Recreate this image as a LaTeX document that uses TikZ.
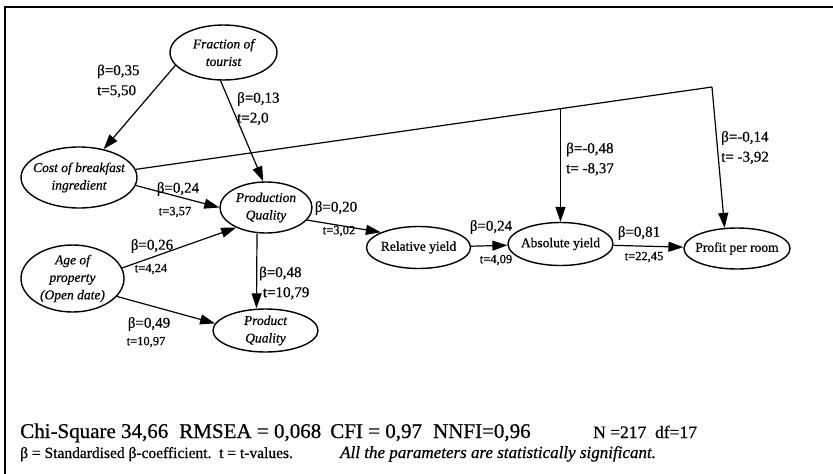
\documentclass[tikz,border=0pt]{standalone}
\usepackage{fontspec}
\setmainfont{Liberation Serif}[FakeBold=0.6]
\usepackage{tikz}
\usetikzlibrary{shapes.geometric,arrows.meta}
\tikzstyle{construct} = [draw=black,ellipse,line width=1.4pt,inner sep=0pt]
\tikzstyle{itname} = [align=center,inner sep=0pt,
  font=\fontsize{13.5}{17.5}\selectfont\itshape]
\tikzstyle{upname} = [inner sep=0pt,font=\fontsize{13.5}{17}\selectfont]
\tikzstyle{effect} = [-{Triangle[length=15pt,width=10pt]},line width=1.2pt]
\tikzstyle{coef} = [inner sep=0pt,align=left,font=\fontsize{15}{20}\selectfont]
\tikzstyle{tval} = [inner sep=0pt,font=\fontsize{12.5}{15}\selectfont]

\begin{document}
\begin{tikzpicture}[x=1pt,y=-1pt]
    \useasboundingbox (0,0) rectangle (833,474);
    \fill[white] (0,0) rectangle (833,474);
    \draw[line width=2.5pt] (5,474) -- (5,7) -- (833,7); % frame

    % constructs
    \node [construct,minimum width=107pt,minimum height=55pt] (frac) at (223.5,52.5) {};
    \node [itname] (frac-t) at (frac) {Fraction of\\tourist};
    \node [construct,minimum width=116pt,minimum height=61pt] (cost) at (79,177.5) {};
    \node [itname] (cost-t) at (cost) {Cost of breakfast\\ingredient};
    \node [construct,minimum width=92pt,minimum height=51pt] (prodn) at (266,207.5) {};
    \node [itname] (prodn-t) at (prodn) {Production\\Quality};
    \node [construct,minimum width=103pt,minimum height=67pt] (age) at (72.5,278.5) {};
    \node [itname] (age-t) at (age) {Age of\\property\\(Open date)};
    \node [construct,minimum width=105pt,minimum height=43pt] (prodq) at (265.5,330.5) {};
    \node [itname] (prodq-t) at (prodq) {Product\\Quality};
    \node [construct,minimum width=104pt,minimum height=42pt] (rel) at (418.5,247.5) {};
    \node [upname] (rel-t) at (rel) {Relative yield};
    \node [construct,minimum width=105pt,minimum height=43pt] (abs) at (560.5,244) {};
    \node [upname] (abs-t) at (abs) {Absolute yield};
    \node [construct,minimum width=106pt,minimum height=41pt] (profit) at (737,248.5) {};
    \node [upname] (profit-t) at (profit) {Profit per room};

    % paths
    \draw [effect] (frac.195) -- (cost.49);
    \draw [effect] (frac.264) -- (prodn.96);
    \draw [effect] (cost.352) -- (prodn.west);
    \draw [effect] (age.12) -- (prodn.214);
    \draw [effect] (age.338) -- (prodq.172);
    \draw [effect] ([xshift=-9pt]prodn.south) -- ([xshift=-9pt]prodq.north);
    \draw [effect] (prodn.343) -- (rel.158);
    \draw [effect] (rel) -- (abs);
    \draw [effect] (abs) -- (profit);
    \coordinate (split) at (560.5,108.5);
    \coordinate (corner) at (712,87);
    \draw [line width=1.2pt] (cost) -- (corner);
    \draw [effect] (split) -- (abs);
    \draw [effect] (corner) -- (profit.121);

    % coefficients
    \node [coef,anchor=west] (b-fc) at (97,81) {β=0,35\\t=5,50};
    \node [coef,anchor=west] (b-fp) at (237,108.5) {β=0,13\\t=2,0};
    \node [coef] (b-cp) at (178,189) {β=0,24};
    \node [tval] (t-cp) at (175,212) {t=3,57};
    \node [coef] (b-ap) at (152,246) {β=0,26};
    \node [tval] (t-ap) at (151,269) {t=4,24};
    \node [coef] (b-aq) at (149,324) {β=0,49};
    \node [tval] (t-aq) at (146,342) {t=10,97};
    \node [coef,anchor=west] (b-pq) at (259,283) {β=0,48\\\ t=10,79};
    \node [coef] (b-pr) at (336,208) {β=0,20};
    \node [tval] (t-pr) at (339,231) {t=3,02};
    \node [coef] (b-ra) at (491,227) {β=0,24};
    \node [tval] (t-ra) at (496,260) {t=4,09};
    \node [coef] (b-ap2) at (639,233) {β=0,81};
    \node [tval] (t-ap2) at (644,257) {t=22,45};
    \node [coef,anchor=west] (b-ca) at (566,159) {β=-0,48\\t= -8,37};
    \node [coef,anchor=west] (b-cr) at (721,147.5) {β=-0,14\\t= -3,92};

    % fit statistics
    \node [inner sep=0pt,anchor=base west,font=\fontsize{21}{24}\selectfont] (fit) at (20,438)
      {Chi-Square 34,66\hspace{11pt}RMSEA = 0,068\hspace{9pt}CFI = 0,97\hspace{11pt}NNFI=0,96};
    \node [inner sep=0pt,anchor=base west,font=\fontsize{17.5}{20}\selectfont] (size) at (593,438)
      {N =217\ \ df=17};
    \node [inner sep=0pt,anchor=base west,font=\fontsize{15.5}{18}\selectfont] (key) at (20,458)
      {β = Standardised β-coefficient.\ \ t = t-values.};
    \node [inner sep=0pt,anchor=base west,font=\fontsize{17}{19}\selectfont\itshape] (sig) at (340,458)
      {All the parameters are statistically significant.};
\end{tikzpicture}
\end{document}
